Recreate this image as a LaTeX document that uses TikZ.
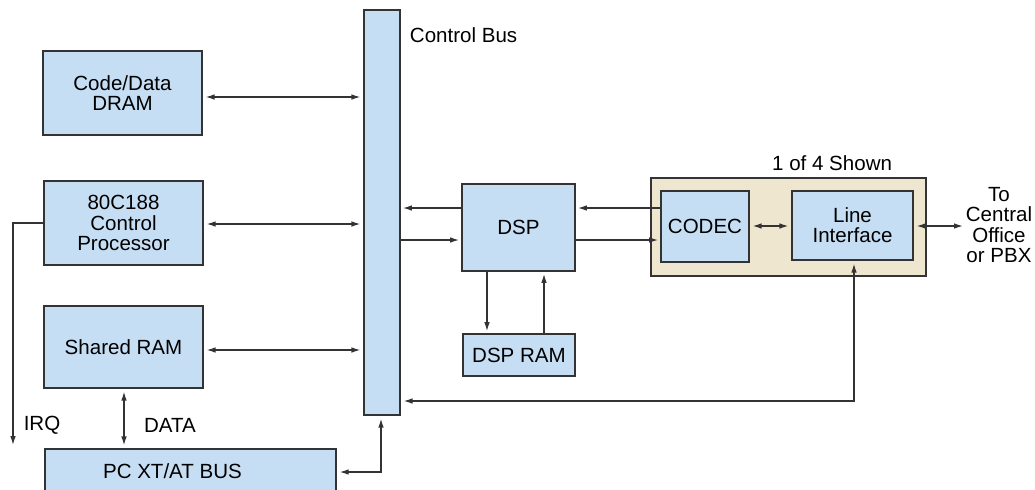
\documentclass[tikz,border=0pt]{standalone}
\usepackage{fontspec}
\setmainfont{Liberation Sans}
\usetikzlibrary{arrows.meta}
\definecolor{boxblue}{HTML}{C6DEF3}
\definecolor{boxtan}{HTML}{EFE6CF}
\definecolor{edge}{HTML}{333333}

\begin{document}
\begin{tikzpicture}[x=0.025cm,y=-0.025cm,
        font=\fontsize{14.6}{14.3}\selectfont,
        blk/.style={rectangle,draw=edge,line width=1.3pt,fill=boxblue,align=center,inner sep=0pt},
        tip/.tip={Latex[length=2.2mm,width=1.4mm]},
        arr/.style={-tip,draw=edge,line width=0.85pt,shorten >=1.5pt},
        dbl/.style={tip-tip,draw=edge,line width=0.85pt,shorten <=2pt,shorten >=2pt}]
        \useasboundingbox (0,0) rectangle (1035,489);
        \clip (0,0) rectangle (1035,489);

        % left column
        \node[blk,minimum width=3.975cm,minimum height=2.1cm] (dram) at (122.5,93) {Code/Data\\DRAM};
        \node[blk,minimum width=3.975cm,minimum height=2.1cm] (cpu) at (123.5,223) {80C188\\Control\\Processor};
        \node[blk,minimum width=3.975cm,minimum height=2.05cm] (sram) at (123.5,347) {Shared RAM};
        \node[blk,minimum width=7.275cm,minimum height=1.1cm] (pcbus) at (190.5,471) {\hbox{PC XT/AT BUS\kern0.9cm}};

        % control bus
        \node[blk,minimum width=0.9cm,minimum height=10.125cm] (cbus) at (382,212.5) {};
        \node[anchor=west] (cbuslbl) at (405,35) {Control Bus};

        % DSP part
        \node[blk,minimum width=2.825cm,minimum height=2.175cm] (dsp) at (518.5,227.5) {DSP};
        \node[blk,minimum width=2.8cm,minimum height=1.05cm] (dspram) at (519,355) {DSP RAM};

        % line channel
        \node[rectangle,draw=edge,line width=1.3pt,fill=boxtan,minimum width=6.875cm,minimum height=2.45cm] (quad) at (788.5,227) {};
        \node[anchor=east] (quadlbl) at (897,163) {1 of 4 Shown};
        \node[blk,minimum width=2.2cm,minimum height=1.775cm] (codec) at (705,226.5) {CODEC};
        \node[blk,minimum width=3.025cm,minimum height=1.725cm] (lif) at (852.5,225.5) {Line\\Interface};
        \node[align=center,inner sep=0pt] (office) at (999,225) {To\\Central\\Office\\or PBX};

        % labels
        \coordinate (irqend) at (13,447);
        \node (irqlbl) at (42,425) {IRQ};
        \node (datalbl) at (170,425) {DATA};

        % connections to the bus
        \draw[dbl] (dram.east |- 0,97) -- (cbus.west |- 0,97);
        \draw[dbl] (cpu.east |- 0,224) -- (cbus.west |- 0,224);
        \draw[dbl] (sram.east |- 0,350) -- (cbus.west |- 0,350);
        \draw[arr] (dsp.west |- 0,208) -- (cbus.east |- 0,208);
        \draw[arr] (cbus.east |- 0,240) -- (dsp.west |- 0,240);

        % DSP links
        \draw[arr] (codec.west |- 0,208) -- (dsp.east |- 0,208);
        \draw[arr] (dsp.east |- 0,240) -- (codec.west |- 0,240);
        \draw[arr] (dsp.south -| 487,0) -- (dspram.north -| 487,0);
        \draw[arr] (dspram.north -| 544,0) -- (dsp.south -| 544,0);
        \draw[dbl] (codec.east |- 0,226) -- (lif.west |- 0,226);
        \draw[dbl] (lif.east |- 0,226) -- (office.west |- 0,226);
        \draw[dbl] (lif.south -| 854,0) |- (cbus.east |- 0,401);

        % PC side
        \draw[dbl] (pcbus.east |- 0,472) -| (cbus.south -| 381,0);
        \draw[dbl] (sram.south -| 124,0) -- (pcbus.north -| 124,0);
        \draw[arr] (cpu.west) -| (irqend);
    \end{tikzpicture}
\end{document}
